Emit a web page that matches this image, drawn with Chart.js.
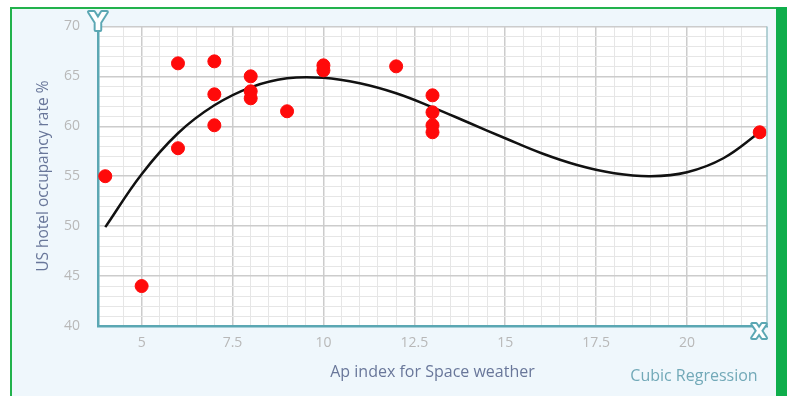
<!DOCTYPE html>
<html>
<head>
<meta charset="utf-8">
<script src="https://cdn.jsdelivr.net/npm/chart.js@4/dist/chart.umd.min.js"></script>
<style>
  html, body { margin: 0; padding: 0; background: #fff; }
  #wrap { position: relative; width: 787px; height: 396px; overflow: hidden; }
  #panel { position: absolute; left: 10px; top: 7px; width: 766px; height: 389px;
           border-top: 2px solid #22b24c; border-left: 2px solid #22b24c;
           box-sizing: border-box; background: #eff7fc; }
  #bar { position: absolute; left: 776px; top: 7px; width: 11px; height: 389px; background: #0fae4c; }
  #chart { position: absolute; left: 0; top: 0; }
</style>
</head>
<body>
<div id="wrap">
  <div id="panel"></div>
  <div id="bar"></div>
  <canvas id="chart" width="787" height="396"></canvas>
</div>
<script>
// observations: Ap index vs US hotel occupancy
var apIndex = [4, 5, 6, 6, 7, 7, 7, 8, 8, 8, 9, 10, 10, 12, 13, 13, 13, 13, 22];
var occupancy = [55, 44, 66.3, 57.8, 66.5, 63.2, 60.1, 65, 63.5, 62.8, 61.5, 66.1, 65.6, 66, 63.1, 61.4, 60.1, 59.4, 59.4];

// cubic regression curve
var curveX = [4, 5, 6, 7, 8, 9, 10, 11, 12, 13, 14, 15, 16, 17, 18, 19, 20, 21, 22];
var curveY = [49.9, 55.2, 59.3, 62.1, 63.9, 64.8, 64.85, 64.3, 63.3, 61.9, 60.35, 58.8, 57.3, 56.1, 55.3, 55.0, 55.4, 56.8, 59.4];

var xTicks = [5, 7.5, 10, 12.5, 15, 17.5, 20];
var yTicks = [40, 45, 50, 55, 60, 65, 70];

var teal = '#5ba7b3';
var major = '#cccccc';
var minor = '#e6e6e6';

var frame = {
  id: 'frame',
  beforeDraw: function (chart) {
    var a = chart.chartArea, c = chart.ctx;
    c.save();
    c.fillStyle = '#ffffff';
    c.fillRect(a.left, a.top, a.right - a.left, a.bottom - a.top);
    c.restore();
  },
  afterDraw: function (chart) {
    var a = chart.chartArea, c = chart.ctx;
    c.save();
    c.strokeStyle = '#9cc3c9';
    c.lineWidth = 1.5;
    c.beginPath();
    c.moveTo(a.right, a.top);
    c.lineTo(a.right, a.bottom);
    c.stroke();
    // axis end badges
    c.textAlign = 'center';
    c.textBaseline = 'middle';
    c.lineJoin = 'round';
    c.lineWidth = 4;
    c.strokeStyle = teal;
    c.fillStyle = '#ffffff';
    c.font = 'bold 24px "DejaVu Sans"';
    c.strokeText('Y', a.left, a.top - 3);
    c.fillText('Y', a.left, a.top - 3);
    c.font = 'bold 19px "DejaVu Sans"';
    c.strokeText('X', a.right - 8, a.bottom + 7);
    c.fillText('X', a.right - 8, a.bottom + 7);
    c.font = '16px "Open Sans"';
    c.fillStyle = '#72a9b8';
    c.fillText('Cubic Regression', 694, 376);
    c.restore();
  }
};

function isMajor(v, step) {
  return Math.abs(v / step - Math.round(v / step)) < 1e-6;
}

new Chart(document.getElementById('chart'), {
  type: 'scatter',
  data: {
    datasets: [{
      data: apIndex.map(function (x, i) { return { x: x, y: occupancy[i] }; }),
      backgroundColor: '#ff0a0a',
      borderColor: '#ff0a0a',
      pointRadius: 6.5,
      pointHoverRadius: 6.5,
      order: 1
    }, {
      data: curveX.map(function (x, i) { return { x: x, y: curveY[i] }; }),
      showLine: true,
      borderColor: '#111111',
      borderWidth: 2.5,
      pointRadius: 0,
      tension: 0.4,
      order: 2
    }]
  },
  options: {
    responsive: false,
    animation: false,
    layout: { padding: { left: 0, top: 24, right: 20, bottom: 0 } },
    plugins: { legend: { display: false }, tooltip: { enabled: false } },
    scales: {
      x: {
        type: 'linear',
        min: 3.8,
        max: 22.2,
        afterFit: function (s) { s.height = 70; },
        afterBuildTicks: function (s) {
          s.ticks = s.ticks.filter(function (t) { return isMajor(t.value, 0.5); });
        },
        ticks: {
          stepSize: 0.5,
          autoSkip: false,
          maxRotation: 0,
          padding: 9,
          color: '#b8b8b8',
          font: { family: 'Open Sans', size: 14 },
          callback: function (v) { return xTicks.indexOf(v) >= 0 ? String(v) : ''; }
        },
        grid: {
          drawTicks: false,
          color: function (c) { return isMajor(c.tick.value, 2.5) ? major : minor; },
          lineWidth: function (c) { return isMajor(c.tick.value, 2.5) ? 1.5 : 1; }
        },
        border: { color: teal, width: 2.5 },
        title: {
          display: true,
          text: 'Ap index for Space weather',
          color: '#69779a',
          font: { family: 'Open Sans', size: 16 },
          padding: { top: 0, bottom: 14 }
        }
      },
      y: {
        min: 40,
        max: 70,
        afterFit: function (s) { s.width = 98; },
        ticks: {
          stepSize: 1,
          autoSkip: false,
          padding: 18,
          color: '#b8b8b8',
          font: { family: 'Open Sans', size: 14 },
          callback: function (v) { return yTicks.indexOf(v) >= 0 ? String(v) : ''; }
        },
        grid: {
          drawTicks: false,
          color: function (c) { return isMajor(c.tick.value, 5) ? major : minor; },
          lineWidth: function (c) { return isMajor(c.tick.value, 5) ? 1.5 : 1; }
        },
        border: { color: teal, width: 2.5 },
        title: {
          display: true,
          text: 'US hotel occupancy rate %',
          color: '#69779a',
          font: { family: 'Open Sans', size: 15.5 },
          padding: { top: 34, bottom: 0 }
        }
      }
    }
  },
  plugins: [frame]
});
</script>
</body>
</html>
